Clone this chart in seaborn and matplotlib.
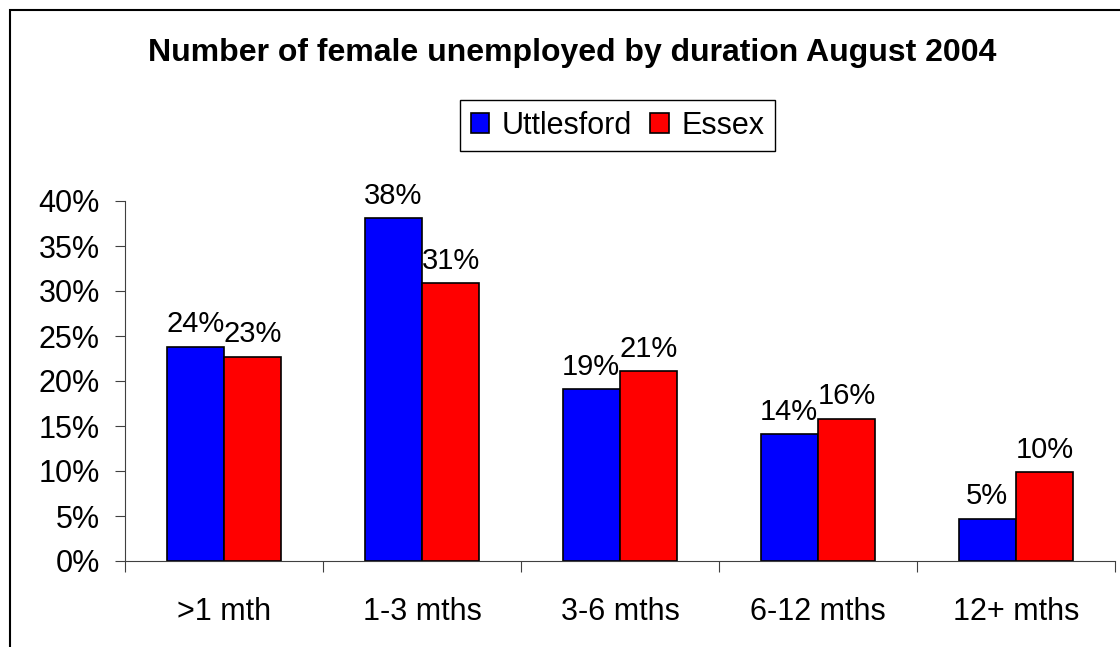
import matplotlib
matplotlib.use("Agg")
import matplotlib.pyplot as plt
import matplotlib.patches as mpatches
from matplotlib.ticker import FixedLocator, PercentFormatter
import seaborn as sns
import pandas as pd

# datos (porcentajes)
durations = [">1 mth", "1-3 mths", "3-6 mths", "6-12 mths", "12+ mths"]
uttlesford = [23.8, 38.1, 19.1, 14.1, 4.7]
essex = [22.7, 30.9, 21.1, 15.8, 9.85]
areas = ["Uttlesford", "Essex"]
colores = ["#0000FF", "#FF0000"]
titulo = "Number of female unemployed by duration August 2004"

df = pd.DataFrame({
    "duration": durations * 2,
    "pct": uttlesford + essex,
    "area": [areas[0]] * len(durations) + [areas[1]] * len(durations),
})

sns.set_style("white")
plt.rcParams["font.family"] = ["Liberation Sans", "DejaVu Sans"]
plt.rcParams["text.color"] = "black"
plt.rcParams["xtick.color"] = "black"
plt.rcParams["ytick.color"] = "black"

W, H = 1120, 647
fig = plt.figure(figsize=(W / 100, H / 100), dpi=100)
ax = fig.add_axes([125 / W, 1 - 561 / H, (1115 - 125) / W, (561 - 201) / H])

sns.barplot(
    data=df, x="duration", y="pct", hue="area",
    palette=colores, width=0.58, gap=0,
    edgecolor="black", linewidth=1.2, saturation=1,
    ax=ax, legend=True,
)

# etiquetas encima de cada barra
for cont in ax.containers:
    ax.bar_label(cont, labels=[f"{round(v)}%" for v in cont.datavalues],
                 padding=6, fontsize=21, color="black")

ax.set_ylim(0, 40)
ax.set_xlim(-0.5, len(durations) - 0.5)
ax.set_yticks(range(0, 41, 5))
ax.yaxis.set_major_formatter(PercentFormatter(decimals=0))
ax.xaxis.set_minor_locator(FixedLocator([i - 0.5 for i in range(len(durations) + 1)]))
ax.tick_params(axis="y", which="major", left=True, length=7, width=0.8,
               color="#404040", labelsize=22, pad=11, labelcolor="black")
ax.tick_params(axis="x", which="major", length=0, labelsize=22, pad=26,
               labelcolor="black")
ax.tick_params(axis="x", which="minor", bottom=True, length=8, width=0.8, color="#404040")
ax.set_xlabel("")
ax.set_ylabel("")
for s in ["top", "right"]:
    ax.spines[s].set_visible(False)
for s in ["left", "bottom"]:
    ax.spines[s].set_color("#404040")
    ax.spines[s].set_linewidth(0.8)

# leyenda arriba
handles, labels = ax.get_legend_handles_labels()
ax.get_legend().remove()
leg = fig.legend(handles, labels, loc="upper left",
                 bbox_to_anchor=(460 / W, 1 - 100 / H), bbox_transform=fig.transFigure,
                 ncol=2, fontsize=22, frameon=True, fancybox=False, framealpha=1,
                 edgecolor="black", borderaxespad=0, handlelength=0.6,
                 handleheight=0.6, handletextpad=0.4, columnspacing=0.62,
                 borderpad=0.35, labelcolor="black")
leg.get_frame().set_linewidth(1.0)

fig.text(572 / W, 1 - 61 / H, titulo, ha="center", va="baseline",
         fontsize=23, fontweight="bold", color="black")

# borde exterior del grafico
fig.patches.append(mpatches.Rectangle((10 / W, -1), 2, 1 + (H - 10) / H,
                                      transform=fig.transFigure, fill=False,
                                      edgecolor="black", linewidth=1.5))

fig.savefig("out.png", dpi=100, facecolor="white")
